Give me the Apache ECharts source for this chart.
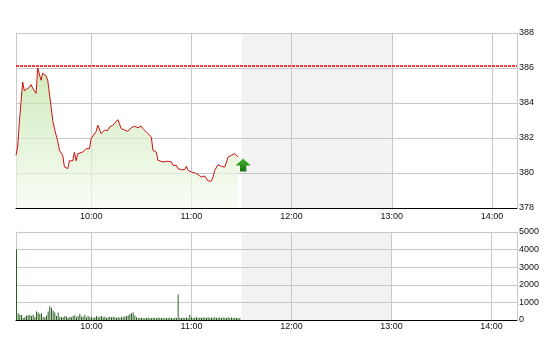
<!DOCTYPE html>
<html>
<head>
<meta charset="utf-8">
<script src="https://cdn.jsdelivr.net/npm/echarts@6/dist/echarts.min.js"></script>
<style>html,body{margin:0;padding:0;background:#fff;}#c{width:550px;height:364px;}</style>
</head>
<body>
<div id="c"></div>
<script>
// ---- data ----
var priceTimes = ['09:15','09:16','09:17','09:19','09:20','09:23','09:24','09:25','09:27','09:28','09:30','09:31','09:33','09:34','09:36','09:37','09:38','09:40','09:41','09:43','09:44','09:46','09:47','09:49','09:50','09:51','09:52','09:55','09:57','09:59','10:00','10:03','10:04','10:05','10:06','10:08','10:10','10:11','10:13','10:14','10:16','10:17','10:18','10:22','10:24','10:26','10:28','10:30','10:31','10:34','10:36','10:37','10:39','10:40','10:43','10:46','10:48','10:49','10:51','10:52','10:54','10:56','10:57','10:58','11:00','11:01','11:03','11:06','11:08','11:10','11:12','11:13','11:14','11:16','11:18','11:20','11:22','11:24','11:25','11:26','11:28'];
var priceValues = [381.01,381.5,382.9,385.2,384.7,384.9,385.05,384.85,384.55,386.0,385.3,385.7,385.55,385.3,383.8,383.0,382.55,381.8,381.3,381.0,380.35,380.25,380.7,380.7,381.2,380.7,381.1,381.2,381.39,381.39,381.97,382.38,382.73,382.63,382.25,382.44,382.44,382.63,382.73,382.63,383.05,382.97,382.54,382.38,382.59,382.67,382.59,382.67,382.54,382.25,382.06,381.30,381.20,380.73,380.63,380.67,380.63,380.44,380.44,380.25,380.19,380.19,380.38,380.15,380.06,380.15,379.97,379.77,379.83,379.54,379.54,379.77,380.15,380.48,380.38,380.34,380.91,381.01,380.95,381.11,380.91];
var referencePrice = 386.13;
var volumeStart = '09:15'; // one bar per minute from here
var volumeValues = [
 4000,380,300,280,110,150,270,260,300,230,
 300,150,490,420,340,380,150,150,250,490,
 780,680,530,420,230,420,190,150,150,230,
 190,110,190,150,230,270,150,230,340,200,
 190,300,150,230,150,190,110,150,230,150,
 190,230,150,190,110,150,190,150,190,150,
 110,150,130,170,150,200,230,260,340,380,
 440,250,150,120,110,130,100,120,110,140,
 100,120,130,110,100,140,120,110,130,100,
 120,110,140,120,100,130,120,1450,110,120,
 130,110,140,120,300,150,120,130,150,110,
 140,120,150,130,110,160,120,140,110,150,
 130,120,150,110,140,130,120,150,110,140,
 120,130,110,120,100];
var axisStart = '09:15', axisEnd = '14:15';
var breakStart = '11:30', breakEnd = '13:00';
var priceTicks = [378, 388, 2];   // min, max, step
var volumeTicks = [0, 5000, 1000];

// ---- helpers ----
function ts(hhmm){ var p = hhmm.split(':'); return new Date(2013,0,2,+p[0],+p[1]).getTime(); }
var priceData = priceTimes.map(function(t,i){ return [ts(t), priceValues[i]]; });
var v0 = ts(volumeStart);
var volumeData = volumeValues.map(function(v,i){ return [v0 + i*60000, v]; });
var lastPoint = priceData[priceData.length-1];

var font = {color:'#111', fontSize:9, fontFamily:'Liberation Sans'};
var gridLine = {show:true, lineStyle:{color:'#c8c8c8', width:1}};
function xAx(gi, margin){
  return {type:'time', gridIndex:gi, min:ts(axisStart), max:ts(axisEnd),
    minInterval:3600000, maxInterval:3600000,
    axisLine:{show:true, onZero:false, lineStyle:{color:'#000', width:1}},
    axisTick:{show:false},
    axisLabel:Object.assign({formatter:'{HH}:{mm}', margin:margin, showMinLabel:false, showMaxLabel:false, hideOverlap:false}, font),
    splitLine:gridLine};
}
function yAx(gi, t){
  return {type:'value', gridIndex:gi, position:'right', min:t[0], max:t[1], interval:t[2],
    axisLine:{show:false}, axisTick:{show:false},
    axisLabel:Object.assign({margin:2, showMinLabel:true, showMaxLabel:true,
      formatter:function(v){ return String(v); }}, font),
    splitLine:gridLine};
}
function leftAx(gi){
  return {type:'value', gridIndex:gi, position:'left', min:0, max:1,
    axisLine:{show:true, lineStyle:{color:'#c8c8c8', width:1}}, axisTick:{show:false},
    axisLabel:{show:false}, splitLine:{show:false}};
}
var shade = {silent:true, z:-5, itemStyle:{color:'#f2f2f2'}, data:[[{xAxis:ts(breakStart)},{xAxis:ts(breakEnd)}]]};

var chart = echarts.init(document.getElementById('c'), null, {renderer:'canvas'});
chart.setOption({
  animation:false,
  backgroundColor:'#fff',
  grid:[
    {left:16, right:33, top:33, bottom:156},
    {left:16, right:33, top:232, bottom:44}
  ],
  xAxis:[xAx(0,4), xAx(1,2)],
  yAxis:[yAx(0,priceTicks), yAx(1,volumeTicks), leftAx(0), leftAx(1)],
  series:[
    {type:'line', xAxisIndex:0, yAxisIndex:0, z:-5, data:[], markArea:shade},
    {type:'line', xAxisIndex:1, yAxisIndex:1, z:-5, data:[], markArea:shade},
    {type:'line', xAxisIndex:0, yAxisIndex:0, data:priceData, symbol:'none',
      lineStyle:{color:'#cc1111', width:1},
      areaStyle:{origin:'start', color:new echarts.graphic.LinearGradient(0,0,0,1,[
        {offset:0, color:'#bce2a0'},{offset:1, color:'#f6fbf2'}])},
      markLine:{silent:true, symbol:'none', label:{show:false},
        lineStyle:{color:'#ee0000', type:[3,1], width:1.5},
        data:[{yAxis:referencePrice}]},
      markPoint:{silent:true, data:[{coord:lastPoint,
        symbol:'path://M7,0 L14,7 L10,7 L10,13 L4,13 L4,7 L0,7 Z',
        symbolSize:[15,13], symbolOffset:[5,8],
        itemStyle:{color:new echarts.graphic.LinearGradient(0,0,0,1,[
          {offset:0, color:'#48b52e'},{offset:1, color:'#137010'}])},
        label:{show:false}}]}
    },
    {type:'bar', xAxisIndex:1, yAxisIndex:1, data:volumeData, barWidth:1,
      itemStyle:{color:'#2b5f22'}}
  ]
});
</script>
</body>
</html>
